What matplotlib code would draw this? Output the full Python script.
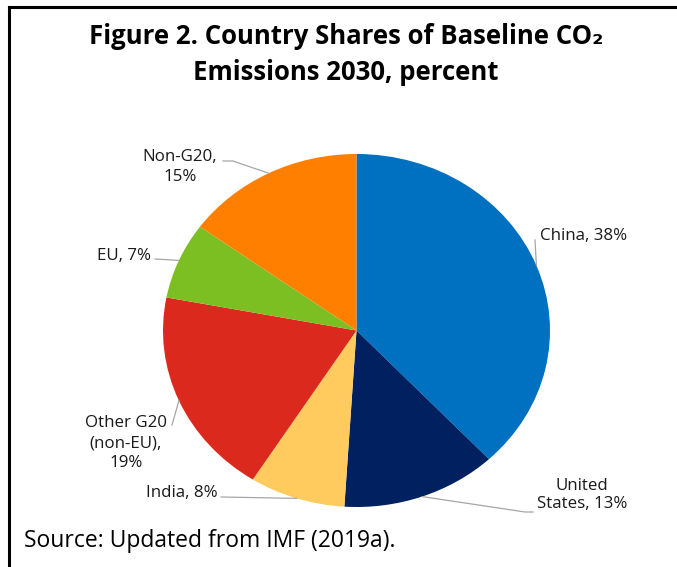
import numpy as np
import matplotlib.pyplot as plt
from matplotlib.lines import Line2D

plt.rcParams['font.family'] = ['Open Sans', 'DejaVu Sans']

# data
labels = ['China', 'United States', 'India', 'Other G20 (non-EU)', 'EU', 'Non-G20']
shares = [38, 13, 8, 19, 7, 15]
colors = ['#0070C0', '#002060', '#FFCA5E', '#DC291E', '#7CBF22', '#FF8000']
label_texts = ['China, 38%', 'United\nStates, 13%', 'India, 8%',
               'Other G20\n(non-EU),\n19%', 'EU, 7%', 'Non-G20,\n15%']

W, H = 677, 567
fig = plt.figure(figsize=(W / 100, H / 100), dpi=100)

def px(x, y):
    return x / W, 1 - y / H

# pie axes (stretched a bit wider than tall, like the original)
ax = fig.add_axes([163 / W, 1 - 507 / H, 387 / W, 353 / H])
wedges, _ = ax.pie(shares, colors=colors, startangle=90, counterclock=False,
                   wedgeprops=dict(linewidth=0))
ax.set_aspect('auto')
ax.set_xlim(-1, 1)
ax.set_ylim(-1, 1)
ax.axis('off')

# label positions (pixels): text anchor, elbow point, alignment
layout = [
    dict(text=(540, 236), elbow=(535, 240), ha='left', ls=1.2),
    dict(text=(582, 495), elbow=(525, 512), ha='center', ls=1.2, end=(533, 512)),
    dict(text=(218, 493), elbow=(221, 497), ha='right', ls=1.2),
    dict(text=(126, 443), elbow=(172, 425), ha='center', ls=1.3),
    dict(text=(151, 256), elbow=(155, 259), ha='right', ls=1.2),
    dict(text=(180, 167), elbow=(233, 161), ha='center', ls=1.35, end=(223, 161)),
]

grey = '#A6A6A6'
for w, txt, lay in zip(wedges, label_texts, layout):
    ang = np.deg2rad((w.theta1 + w.theta2) / 2)
    ex, ey = np.cos(ang), np.sin(ang)
    # edge point in figure fraction
    disp = ax.transData.transform((ex, ey))
    fx, fy = fig.transFigure.inverted().transform(disp)
    bx, by = px(*lay['elbow'])
    xs, ys = [fx, bx], [fy, by]
    if 'end' in lay:
        cx, cy = px(*lay['end'])
        xs.append(cx)
        ys.append(cy)
    fig.add_artist(Line2D(xs, ys, color=grey, lw=0.9, transform=fig.transFigure))
    tx, ty = px(*lay['text'])
    fig.text(tx, ty, txt, ha=lay['ha'], va='center', fontsize=12.2,
             color='#1a1a1a', linespacing=lay['ls'], multialignment='center')

fig.text(346 / W, 1 - 36 / H, 'Figure 2. Country Shares of Baseline CO\u2082',
         ha='center', va='center', fontsize=18.5, fontweight='bold')
fig.text(346 / W, 1 - 73 / H, 'Emissions 2030, percent',
         ha='center', va='center', fontsize=18.5, fontweight='bold')

fig.text(24 / W, 1 - 541 / H, 'Source: Updated from IMF (2019a).',
         ha='left', va='center', fontsize=16.5)

# frame (top and left)
fig.add_artist(Line2D([9 / W, 1], [1 - 7 / H, 1 - 7 / H], color='black', lw=2.2,
                      transform=fig.transFigure))
fig.add_artist(Line2D([9 / W, 9 / W], [0, 1 - 7 / H], color='black', lw=2.2,
                      transform=fig.transFigure))

fig.savefig('out.png', dpi=100)
